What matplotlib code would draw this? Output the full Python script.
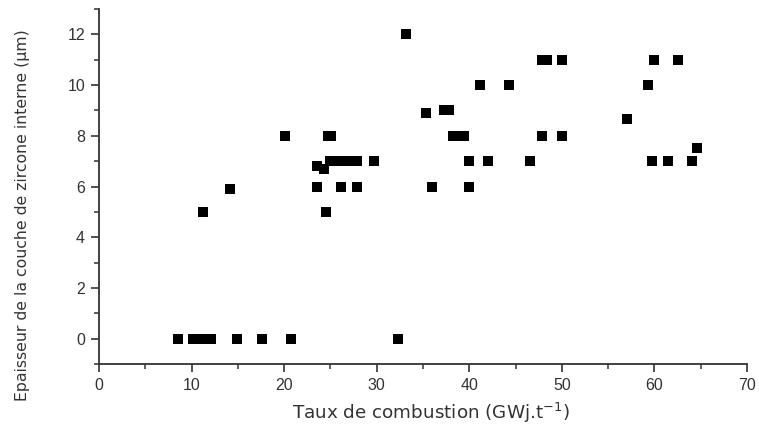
import matplotlib
matplotlib.use("Agg")
import matplotlib.pyplot as plt
from matplotlib.ticker import MultipleLocator

# Burn-up (GWj/t) and inner zirconia layer thickness (µm)
burnup = [
    8.5, 10.2, 10.8, 11.4, 12.1, 14.9, 17.6, 20.7, 32.3,
    11.2, 14.15, 24.5,
    20.1, 24.7, 25.1, 38.2, 38.8, 39.4, 47.9, 50.0,
    33.2,
    41.2, 44.3, 59.3,
    35.3, 57.0,
    37.3, 37.8,
    23.5, 24.3,
    25.0, 25.7, 26.5, 27.2, 27.9, 29.7, 40.0, 42.0, 46.6, 59.7, 61.5, 64.1,
    23.5, 26.1, 27.9, 36.0, 40.0,
    47.9, 48.4, 50.0, 59.9, 62.5,
    64.6,
]
thickness = [
    0, 0, 0, 0, 0, 0, 0, 0, 0,
    5, 5.9, 5,
    8, 8, 8, 8, 8, 8, 8, 8,
    12,
    10, 10, 10,
    8.9, 8.65,
    9, 9,
    6.8, 6.7,
    7, 7, 7, 7, 7, 7, 7, 7, 7, 7, 7, 7,
    6, 6, 6, 6, 6,
    11, 11, 11, 11, 11,
    7.5,
]

x_ticks = [0, 10, 20, 30, 40, 50, 60, 70]
y_ticks = [0, 2, 4, 6, 8, 10, 12]

fig = plt.figure(figsize=(7.59, 4.30), dpi=100)
ax = fig.add_axes([0.1304, 0.1535, 0.8538, 0.8255])

ax.plot(burnup, thickness, linestyle="none", marker="s", markersize=7.6,
        color="black", markeredgewidth=0)

ax.set_xlim(0, 70)
ax.set_ylim(-1, 13)
ax.set_xticks(x_ticks)
ax.set_yticks(y_ticks)
ax.xaxis.set_minor_locator(MultipleLocator(5))
ax.yaxis.set_minor_locator(MultipleLocator(1))

for side in ("top", "right"):
    ax.spines[side].set_visible(False)
for side in ("left", "bottom"):
    ax.spines[side].set_linewidth(1.3)
    ax.spines[side].set_color("#333333")

ax.tick_params(which="major", direction="out", length=6, width=1.2,
               color="#333333", labelsize=11.5, labelcolor="#333333", pad=4)
ax.tick_params(which="minor", direction="out", length=3.5, width=1.1,
               color="#333333")
for lab in ax.get_xticklabels() + ax.get_yticklabels():
    lab.set_family("Liberation Sans")

ax.set_xlabel("Taux de combustion (GWj.t$^{\\mathregular{-1}}$)",
              fontsize=13.2, color="#333333")
ax.set_ylabel("Epaisseur de la couche de zircone interne (µm)",
              fontsize=11.3, color="#333333")
ax.xaxis.set_label_coords(0.5125, -0.105)
ax.yaxis.set_label_coords(-0.107, 0.42)

fig.savefig("out.png", dpi=100)
